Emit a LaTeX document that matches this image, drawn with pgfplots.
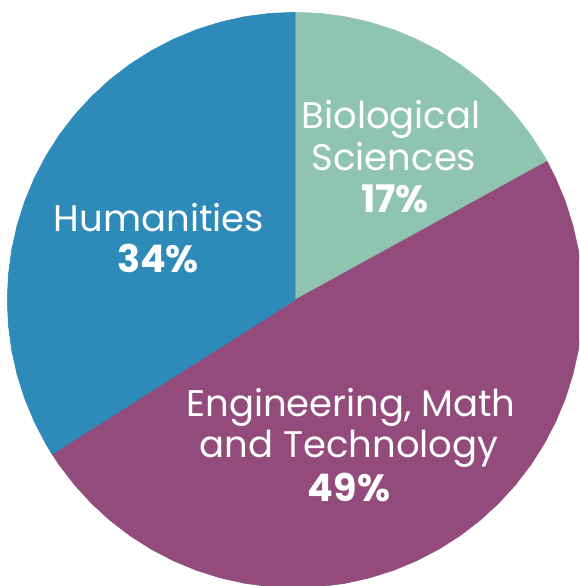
\documentclass[border=0pt]{standalone}
\usepackage{pgfplots}
\pgfplotsset{compat=1.18}
\usepackage{fontspec}
\setmainfont{Poppins}
\definecolor{bio}{RGB}{142,196,176}
\definecolor{eng}{RGB}{147,75,124}
\definecolor{hum}{RGB}{45,138,185}
\begin{document}
\begin{tikzpicture}
\begin{axis}[
  scale only axis, width=579pt, height=586pt,
  xmin=-295, xmax=284, ymin=-286, ymax=300,
  axis lines=none, clip=true,
  data cs=polar,
]
% Biological Sciences 17% : 90 -> 28.8 deg
\addplot[fill=bio, draw=bio, line width=0.6pt] coordinates {
 (0,0) (90,287.7) (85,287.7) (80,287.7) (75,287.7) (70,287.7) (65,287.7) (60,287.7)
 (55,287.7) (50,287.7) (45,287.7) (40,287.7) (35,287.7) (30,287.7) (28.8,287.7)} -- cycle;
% Engineering, Math and Technology 49% : 28.8 -> -147.6 deg
\addplot[fill=eng, draw=eng, line width=0.6pt] coordinates {
 (0,0) (28.8,287.7) (25,287.7) (20,287.7) (15,287.7) (10,287.7) (5,287.7) (0,287.7)
 (-5,287.7) (-10,287.7) (-15,287.7) (-20,287.7) (-25,287.7) (-30,287.7) (-35,287.7)
 (-40,287.7) (-45,287.7) (-50,287.7) (-55,287.7) (-60,287.7) (-65,287.7) (-70,287.7)
 (-75,287.7) (-80,287.7) (-85,287.7) (-90,287.7) (-95,287.7) (-100,287.7) (-105,287.7)
 (-110,287.7) (-115,287.7) (-120,287.7) (-125,287.7) (-130,287.7) (-135,287.7)
 (-140,287.7) (-145,287.7) (-147.6,287.7)} -- cycle;
% Humanities 34% : -147.6 -> -270 deg
\addplot[fill=hum, draw=hum, line width=0.6pt] coordinates {
 (0,0) (-147.6,287.7) (-150,287.7) (-155,287.7) (-160,287.7) (-165,287.7) (-170,287.7)
 (-175,287.7) (-180,287.7) (-185,287.7) (-190,287.7) (-195,287.7) (-200,287.7)
 (-205,287.7) (-210,287.7) (-215,287.7) (-220,287.7) (-225,287.7) (-230,287.7)
 (-235,287.7) (-240,287.7) (-245,287.7) (-250,287.7) (-255,287.7) (-260,287.7)
 (-265,287.7) (-270,287.7)} -- cycle;
\end{axis}
\begin{scope}[every node/.style={text=white, anchor=base, inner sep=0pt, font=\fontsize{37}{42}\selectfont}]
% positions in image pixels (x from left, y from top) -> pt, origin bottom-left
\node at (391pt, 586pt-129pt) {Biological};
\node at (394pt, 586pt-171pt) {Sciences};
\node[font=\fontsize{38}{42}\selectfont\bfseries] at (395pt, 586pt-213pt) {17\%};
\node at (159pt, 586pt-232pt) {Humanities};
\node[font=\fontsize{38}{42}\selectfont\bfseries] at (158pt, 586pt-273pt) {34\%};
\node at (351pt, 586pt-417pt) {Engineering, Math};
\node at (349pt, 586pt-458pt) {and Technology};
\node[font=\fontsize{38}{42}\selectfont\bfseries] at (349pt, 586pt-502pt) {49\%};
\end{scope}
\pgfresetboundingbox
\useasboundingbox (0pt,0pt) rectangle (579pt,586pt);
\end{tikzpicture}
\end{document}
